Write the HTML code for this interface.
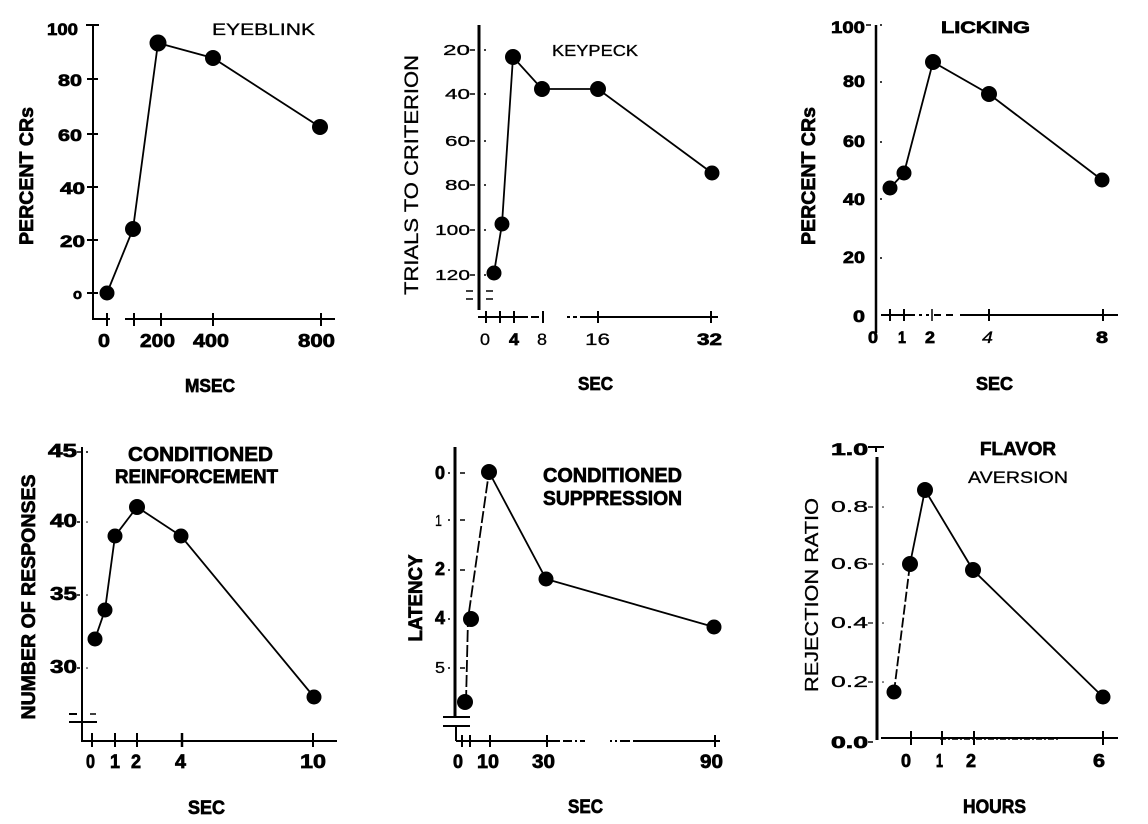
<!DOCTYPE html>
<html>
<head>
<meta charset="utf-8">
<style>
html,body{margin:0;padding:0;background:#fff;}
svg{display:block;}
text{font-family:"Liberation Sans",Arial,sans-serif;fill:#000;}
.b{font-weight:bold;stroke:#000;stroke-width:0.7;}
.n{font-weight:normal;stroke:#000;stroke-width:0.3;}
</style>
</head>
<body>
<svg width="1148" height="824" viewBox="0 0 1148 824" xmlns="http://www.w3.org/2000/svg">
<rect width="1148" height="824" fill="#fff"/>

<!-- ================= PANEL 1: EYEBLINK ================= -->
<g stroke="#000" fill="none">
  <line x1="93" y1="25" x2="93" y2="320" stroke-width="2"/>
  <line x1="86" y1="25" x2="99" y2="25" stroke-width="2"/>
  <line x1="87" y1="79" x2="98" y2="79" stroke-width="2"/>
  <line x1="87" y1="134" x2="98" y2="134" stroke-width="2"/>
  <line x1="87" y1="187" x2="98" y2="187" stroke-width="2"/>
  <line x1="87" y1="240" x2="98" y2="240" stroke-width="2"/>
  <line x1="87" y1="293" x2="98" y2="293" stroke-width="2"/>
  <line x1="93" y1="319" x2="110" y2="319" stroke-width="2"/>
  <line x1="125" y1="319" x2="335" y2="319" stroke-width="2"/>
  <line x1="107" y1="313" x2="107" y2="326" stroke-width="2"/>
  <line x1="134" y1="313" x2="134" y2="326" stroke-width="2"/>
  <line x1="161" y1="313" x2="161" y2="326" stroke-width="2"/>
  <line x1="213" y1="313" x2="213" y2="326" stroke-width="2"/>
  <line x1="321" y1="313" x2="321" y2="326" stroke-width="2"/>
  <polyline points="107,293 133,229 158,43 213,58 320,127" stroke-width="1.8"/>
</g>
<g fill="#000">
  <circle cx="107" cy="293" r="7.5"/>
  <circle cx="133" cy="229" r="8"/>
  <circle cx="158" cy="43" r="8.5"/>
  <circle cx="213" cy="58" r="8"/>
  <circle cx="320" cy="127" r="8"/>
</g>
<text class="b" x="47" y="35" font-size="17" textLength="31" lengthAdjust="spacingAndGlyphs">100</text>
<text class="b" x="58" y="86" font-size="17" textLength="24" lengthAdjust="spacingAndGlyphs">80</text>
<text class="b" x="58" y="141" font-size="17" textLength="24" lengthAdjust="spacingAndGlyphs">60</text>
<text class="b" x="60" y="194" font-size="17" textLength="25" lengthAdjust="spacingAndGlyphs">40</text>
<text class="b" x="60" y="247" font-size="17" textLength="25" lengthAdjust="spacingAndGlyphs">20</text>
<text class="b" x="73" y="299" font-size="15" textLength="9" lengthAdjust="spacingAndGlyphs">o</text>
<text class="b" x="98" y="347" font-size="18" textLength="12" lengthAdjust="spacingAndGlyphs">0</text>
<text class="b" x="140" y="347" font-size="18" textLength="35" lengthAdjust="spacingAndGlyphs">200</text>
<text class="b" x="193" y="347" font-size="18" textLength="36" lengthAdjust="spacingAndGlyphs">400</text>
<text class="b" x="298" y="347" font-size="18" textLength="37" lengthAdjust="spacingAndGlyphs">800</text>
<text class="b" x="185" y="392" font-size="18" textLength="50" lengthAdjust="spacingAndGlyphs">MSEC</text>
<text class="n" x="212" y="35" font-size="17" textLength="103" lengthAdjust="spacingAndGlyphs">EYEBLINK</text>
<text class="b" x="33" y="176" font-size="19" text-anchor="middle" textLength="138" lengthAdjust="spacingAndGlyphs" transform="rotate(-90 33 176)">PERCENT CRs</text>

<!-- ================= PANEL 2: KEYPECK ================= -->
<g stroke="#000" fill="none">
  <line x1="479" y1="25" x2="479" y2="310" stroke-width="3"/>
  <line x1="470" y1="50" x2="475" y2="50" stroke-width="1.5"/>
  <line x1="470" y1="94" x2="475" y2="94" stroke-width="1.5"/>
  <line x1="470" y1="141" x2="475" y2="141" stroke-width="1.5"/>
  <line x1="470" y1="185" x2="475" y2="185" stroke-width="1.5"/>
  <line x1="470" y1="230" x2="475" y2="230" stroke-width="1.5"/>
  <line x1="470" y1="275" x2="475" y2="275" stroke-width="1.5"/>
  <line x1="466" y1="291" x2="473" y2="291" stroke-width="1.5"/>
  <line x1="486" y1="291" x2="493" y2="291" stroke-width="1.5"/>
  <line x1="466" y1="299" x2="473" y2="299" stroke-width="1.5"/>
  <line x1="486" y1="299" x2="493" y2="299" stroke-width="1.5"/>
  <line x1="478" y1="317" x2="528" y2="317" stroke-width="2"/>
  <line x1="531" y1="317" x2="539" y2="317" stroke-width="2"/>
  <line x1="567" y1="317" x2="570" y2="317" stroke-width="2"/>
  <line x1="573" y1="317" x2="577" y2="317" stroke-width="2"/>
  <line x1="580" y1="317" x2="718" y2="317" stroke-width="2"/>
  <line x1="486" y1="311" x2="486" y2="323" stroke-width="2"/>
  <line x1="500" y1="311" x2="500" y2="323" stroke-width="2"/>
  <line x1="514" y1="311" x2="514" y2="323" stroke-width="2"/>
  <line x1="543" y1="311" x2="543" y2="323" stroke-width="2"/>
  <line x1="598" y1="311" x2="598" y2="323" stroke-width="2"/>
  <line x1="711" y1="311" x2="711" y2="323" stroke-width="2"/>
  <polyline points="494,273 502,224 513,57 542,89 598,89 712,173" stroke-width="1.8"/>
</g>
<g fill="#000">
  <circle cx="485" cy="50" r="1"/><circle cx="485" cy="94" r="1"/><circle cx="485" cy="141" r="1"/>
  <circle cx="485" cy="185" r="1"/><circle cx="485" cy="230" r="1"/><circle cx="485" cy="275" r="1"/>
  <circle cx="494" cy="273" r="7.5"/>
  <circle cx="502" cy="224" r="7.5"/>
  <circle cx="513" cy="57" r="8"/>
  <circle cx="542" cy="89" r="8"/>
  <circle cx="598" cy="89" r="8"/>
  <circle cx="712" cy="173" r="7.5"/>
</g>
<text class="n" x="443" y="55" font-size="15" textLength="27" lengthAdjust="spacingAndGlyphs">20</text>
<text class="n" x="445" y="99" font-size="15" textLength="25" lengthAdjust="spacingAndGlyphs">40</text>
<text class="n" x="445" y="146" font-size="15" textLength="25" lengthAdjust="spacingAndGlyphs">60</text>
<text class="n" x="445" y="190" font-size="15" textLength="25" lengthAdjust="spacingAndGlyphs">80</text>
<text class="n" x="435" y="235" font-size="15" textLength="35" lengthAdjust="spacingAndGlyphs">100</text>
<text class="n" x="435" y="280" font-size="15" textLength="35" lengthAdjust="spacingAndGlyphs">120</text>
<text class="n" x="480" y="345" font-size="17" textLength="10" lengthAdjust="spacingAndGlyphs">0</text>
<text class="b" x="509" y="345" font-size="17" textLength="10" lengthAdjust="spacingAndGlyphs">4</text>
<text class="n" x="537" y="345" font-size="17" textLength="10" lengthAdjust="spacingAndGlyphs">8</text>
<text class="n" x="585" y="345" font-size="17" textLength="25" lengthAdjust="spacingAndGlyphs">16</text>
<text class="b" x="697" y="345" font-size="17" textLength="25" lengthAdjust="spacingAndGlyphs">32</text>
<text class="b" x="578" y="390" font-size="18" textLength="35" lengthAdjust="spacingAndGlyphs">SEC</text>
<text class="n" x="552" y="56" font-size="16" textLength="86" lengthAdjust="spacingAndGlyphs">KEYPECK</text>
<text class="n" x="418" y="175" font-size="19" text-anchor="middle" textLength="240" lengthAdjust="spacingAndGlyphs" transform="rotate(-90 418 175)">TRIALS TO CRITERION</text>

<!-- ================= PANEL 3: LICKING ================= -->
<g stroke="#000" fill="none">
  <line x1="876" y1="25" x2="876" y2="333" stroke-width="2.5"/>
  <line x1="866" y1="25" x2="871" y2="25" stroke-width="1.5"/>
  <line x1="881" y1="315" x2="915" y2="315" stroke-width="2"/>
  <line x1="919" y1="315" x2="922" y2="315" stroke-width="2"/>
  <line x1="926" y1="315" x2="929" y2="315" stroke-width="2"/>
  <line x1="934" y1="315" x2="941" y2="315" stroke-width="2"/>
  <line x1="946" y1="315" x2="953" y2="315" stroke-width="2"/>
  <line x1="960" y1="315" x2="1118" y2="315" stroke-width="2"/>
  <line x1="890" y1="309" x2="890" y2="321" stroke-width="2"/>
  <line x1="904" y1="309" x2="904" y2="321" stroke-width="2"/>
  <line x1="932" y1="309" x2="932" y2="321" stroke-width="1.5"/>
  <line x1="989" y1="309" x2="989" y2="321" stroke-width="2"/>
  <line x1="1103" y1="309" x2="1103" y2="321" stroke-width="2"/>
  <polyline points="890,188 904,173 933,62 989,94 1102,180" stroke-width="1.8"/>
</g>
<g fill="#000">
  <circle cx="881" cy="25" r="1"/><circle cx="881" cy="82" r="1"/><circle cx="881" cy="142" r="1"/>
  <circle cx="881" cy="199" r="1"/><circle cx="881" cy="258" r="1"/>
  <circle cx="890" cy="188" r="7.5"/>
  <circle cx="904" cy="173" r="7.5"/>
  <circle cx="933" cy="62" r="8"/>
  <circle cx="989" cy="94" r="8"/>
  <circle cx="1102" cy="180" r="7.5"/>
</g>
<text class="b" x="831" y="33" font-size="17" textLength="34" lengthAdjust="spacingAndGlyphs">100</text>
<text class="b" x="843" y="87" font-size="17" textLength="22" lengthAdjust="spacingAndGlyphs">80</text>
<text class="b" x="843" y="147" font-size="17" textLength="22" lengthAdjust="spacingAndGlyphs">60</text>
<text class="b" x="843" y="205" font-size="17" textLength="22" lengthAdjust="spacingAndGlyphs">40</text>
<text class="b" x="843" y="263" font-size="17" textLength="22" lengthAdjust="spacingAndGlyphs">20</text>
<text class="b" x="853" y="322" font-size="17" textLength="12" lengthAdjust="spacingAndGlyphs">0</text>
<text class="b" x="868" y="343" font-size="17" textLength="10" lengthAdjust="spacingAndGlyphs">0</text>
<text class="b" x="898" y="343" font-size="17" textLength="8" lengthAdjust="spacingAndGlyphs">1</text>
<text class="b" x="925" y="343" font-size="17" textLength="10" lengthAdjust="spacingAndGlyphs">2</text>
<text class="n" x="982" y="343" font-size="17" textLength="11" lengthAdjust="spacingAndGlyphs" font-style="italic">4</text>
<text class="b" x="1096" y="343" font-size="17" textLength="12" lengthAdjust="spacingAndGlyphs">8</text>
<text class="b" x="941" y="33" font-size="17" textLength="89" lengthAdjust="spacingAndGlyphs">LICKING</text>
<text class="b" x="976" y="390" font-size="18" textLength="37" lengthAdjust="spacingAndGlyphs">SEC</text>
<text class="b" x="815" y="176" font-size="19" text-anchor="middle" textLength="138" lengthAdjust="spacingAndGlyphs" transform="rotate(-90 815 176)">PERCENT CRs</text>

<!-- ================= PANEL 4: CONDITIONED REINFORCEMENT ================= -->
<g stroke="#000" fill="none">
  <line x1="82" y1="447" x2="82" y2="742" stroke-width="2"/>
  <line x1="77" y1="452" x2="81" y2="452" stroke-width="1.5"/>
  <line x1="77" y1="522" x2="80" y2="522" stroke-width="1.5"/>
  <line x1="77" y1="595" x2="80" y2="595" stroke-width="1.5"/>
  <line x1="77" y1="668" x2="80" y2="668" stroke-width="1.5"/>
  <line x1="69" y1="714" x2="77" y2="714" stroke-width="2"/>
  <line x1="90" y1="714" x2="96" y2="714" stroke-width="1.5"/>
  <line x1="69" y1="722" x2="97" y2="722" stroke-width="2"/>
  <line x1="82" y1="741" x2="337" y2="741" stroke-width="2"/>
  <line x1="92" y1="733" x2="92" y2="747" stroke-width="2"/>
  <line x1="115" y1="733" x2="115" y2="747" stroke-width="2"/>
  <line x1="137" y1="733" x2="137" y2="747" stroke-width="2"/>
  <line x1="182" y1="733" x2="182" y2="747" stroke-width="2.5"/>
  <line x1="313" y1="733" x2="313" y2="747" stroke-width="2"/>
  <polyline points="95,639 105,610 115,536 137,507 181,536 314,697" stroke-width="1.8"/>
</g>
<g fill="#000">
  <circle cx="87" cy="452" r="1"/><circle cx="87" cy="522" r="0.8"/><circle cx="87" cy="595" r="0.8"/><circle cx="87" cy="668" r="0.8"/>
  <circle cx="95" cy="639" r="7.5"/>
  <circle cx="105" cy="610" r="7.5"/>
  <circle cx="115" cy="536" r="7.5"/>
  <circle cx="137" cy="507" r="8"/>
  <circle cx="181" cy="536" r="7.5"/>
  <circle cx="314" cy="697" r="7.5"/>
</g>
<text class="b" x="48" y="457" font-size="18" textLength="29" lengthAdjust="spacingAndGlyphs">45</text>
<text class="b" x="50" y="527" font-size="18" textLength="27" lengthAdjust="spacingAndGlyphs">40</text>
<text class="b" x="50" y="600" font-size="18" textLength="27" lengthAdjust="spacingAndGlyphs">35</text>
<text class="b" x="50" y="673" font-size="18" textLength="27" lengthAdjust="spacingAndGlyphs">30</text>
<text class="b" x="86" y="768" font-size="19" textLength="9" lengthAdjust="spacingAndGlyphs">0</text>
<text class="b" x="110" y="768" font-size="19" textLength="10" lengthAdjust="spacingAndGlyphs">1</text>
<text class="b" x="131" y="768" font-size="19" textLength="10" lengthAdjust="spacingAndGlyphs">2</text>
<text class="b" x="175" y="768" font-size="19" textLength="11" lengthAdjust="spacingAndGlyphs">4</text>
<text class="b" x="300" y="768" font-size="19" textLength="26" lengthAdjust="spacingAndGlyphs">10</text>
<text class="b" x="188" y="814" font-size="19" textLength="37" lengthAdjust="spacingAndGlyphs">SEC</text>
<text class="b" x="128" y="461" font-size="20" textLength="145" lengthAdjust="spacingAndGlyphs">CONDITIONED</text>
<text class="b" x="115" y="483" font-size="19" textLength="163" lengthAdjust="spacingAndGlyphs">REINFORCEMENT</text>
<text class="b" x="35" y="597" font-size="19" text-anchor="middle" textLength="245" lengthAdjust="spacingAndGlyphs" transform="rotate(-90 35 597)">NUMBER OF RESPONSES</text>

<!-- ================= PANEL 5: CONDITIONED SUPPRESSION ================= -->
<g stroke="#000" fill="none">
  <line x1="455" y1="447" x2="455" y2="717" stroke-width="3"/>
  <line x1="460" y1="473" x2="465" y2="473" stroke-width="1.5"/>
  <line x1="460" y1="520" x2="465" y2="520" stroke-width="1.5"/>
  <line x1="460" y1="570" x2="465" y2="570" stroke-width="1.5"/>
  <line x1="460" y1="668" x2="465" y2="668" stroke-width="1.5"/>
  <line x1="443" y1="717" x2="470" y2="717" stroke-width="2"/>
  <line x1="443" y1="726" x2="470" y2="726" stroke-width="2"/>
  <line x1="456" y1="726" x2="456" y2="741" stroke-width="2"/>
  <line x1="456" y1="741" x2="560" y2="741" stroke-width="2"/>
  <line x1="563" y1="741" x2="572" y2="741" stroke-width="2"/>
  <line x1="575" y1="741" x2="577" y2="741" stroke-width="2"/>
  <line x1="580" y1="741" x2="585" y2="741" stroke-width="2"/>
  <line x1="610" y1="741" x2="612" y2="741" stroke-width="2"/>
  <line x1="615" y1="741" x2="617" y2="741" stroke-width="2"/>
  <line x1="620" y1="741" x2="630" y2="741" stroke-width="2"/>
  <line x1="633" y1="741" x2="720" y2="741" stroke-width="2"/>
  <line x1="462" y1="735" x2="462" y2="747" stroke-width="2"/>
  <line x1="470" y1="735" x2="470" y2="747" stroke-width="2"/>
  <line x1="490" y1="735" x2="490" y2="747" stroke-width="2"/>
  <line x1="547" y1="735" x2="547" y2="747" stroke-width="2"/>
  <line x1="715" y1="735" x2="715" y2="747" stroke-width="2"/>
  <polyline points="466,702 468,619 489,472" stroke-width="1.8" stroke-dasharray="12 3"/>
  <polyline points="489,472 546,579 714,627" stroke-width="1.8"/>
</g>
<g fill="#000">
  <circle cx="449" cy="473" r="1"/><circle cx="449" cy="520" r="1"/><circle cx="449" cy="570" r="1"/><circle cx="449" cy="619" r="1"/><circle cx="449" cy="668" r="1"/>
  <circle cx="465" cy="702" r="8"/>
  <circle cx="471" cy="619" r="8"/>
  <circle cx="489" cy="472" r="8"/>
  <circle cx="546" cy="579" r="7.5"/>
  <circle cx="714" cy="627" r="7.5"/>
</g>
<text class="b" x="435" y="479" font-size="18" textLength="10" lengthAdjust="spacingAndGlyphs">0</text>
<text class="n" x="435" y="526" font-size="16" textLength="7" lengthAdjust="spacingAndGlyphs">1</text>
<text class="b" x="435" y="575" font-size="18" textLength="10" lengthAdjust="spacingAndGlyphs">2</text>
<text class="b" x="435" y="624" font-size="18" textLength="10" lengthAdjust="spacingAndGlyphs">4</text>
<text class="n" x="435" y="673" font-size="16" textLength="10" lengthAdjust="spacingAndGlyphs">5</text>
<text class="b" x="453" y="768" font-size="19" textLength="10" lengthAdjust="spacingAndGlyphs">0</text>
<text class="b" x="477" y="768" font-size="19" textLength="22" lengthAdjust="spacingAndGlyphs">10</text>
<text class="b" x="532" y="768" font-size="19" textLength="23" lengthAdjust="spacingAndGlyphs">30</text>
<text class="b" x="700" y="768" font-size="19" textLength="23" lengthAdjust="spacingAndGlyphs">90</text>
<text class="b" x="568" y="813" font-size="19" textLength="35" lengthAdjust="spacingAndGlyphs">SEC</text>
<text class="b" x="543" y="482" font-size="20" textLength="139" lengthAdjust="spacingAndGlyphs">CONDITIONED</text>
<text class="b" x="543" y="505" font-size="20" textLength="139" lengthAdjust="spacingAndGlyphs">SUPPRESSION</text>
<text class="b" x="422" y="598" font-size="19" text-anchor="middle" textLength="87" lengthAdjust="spacingAndGlyphs" transform="rotate(-90 422 598)">LATENCY</text>

<!-- ================= PANEL 6: FLAVOR AVERSION ================= -->
<g stroke="#000" fill="none">
  <line x1="868" y1="447" x2="884" y2="447" stroke-width="2"/>
  <line x1="876" y1="447" x2="876" y2="452" stroke-width="2"/>
  <line x1="877" y1="457" x2="877" y2="740" stroke-width="3"/>
  <line x1="868" y1="507" x2="873" y2="507" stroke-width="1.2"/>
  <line x1="868" y1="564" x2="873" y2="564" stroke-width="1.2"/>
  <line x1="868" y1="623" x2="873" y2="623" stroke-width="1.2"/>
  <line x1="868" y1="682" x2="873" y2="682" stroke-width="1.2"/>
  <line x1="868" y1="742" x2="873" y2="742" stroke-width="1.5"/>
  <line x1="881" y1="738" x2="1118" y2="738" stroke-width="2"/>
  <line x1="940" y1="739" x2="1060" y2="739" stroke-width="1.5" stroke-dasharray="6 2 2 2"/>
  <line x1="911" y1="731" x2="911" y2="745" stroke-width="2"/>
  <line x1="942" y1="731" x2="942" y2="745" stroke-width="2"/>
  <line x1="974" y1="731" x2="974" y2="745" stroke-width="2"/>
  <line x1="1103" y1="731" x2="1103" y2="745" stroke-width="2"/>
  <line x1="894" y1="692" x2="910" y2="564" stroke-width="1.8" stroke-dasharray="10 3"/>
  <polyline points="910,564 925,490 973,570 1103,697" stroke-width="1.8"/>
</g>
<g fill="#000">
  <circle cx="883" cy="507" r="0.8"/><circle cx="883" cy="564" r="0.8"/><circle cx="883" cy="623" r="0.8"/><circle cx="883" cy="682" r="0.8"/>
  <circle cx="894" cy="692" r="7.5"/>
  <circle cx="910" cy="564" r="8"/>
  <circle cx="925" cy="490" r="8"/>
  <circle cx="973" cy="570" r="8"/>
  <circle cx="1103" cy="697" r="7.5"/>
</g>
<text class="b" x="831" y="455" font-size="17" textLength="37" lengthAdjust="spacingAndGlyphs">1.0</text>
<text class="n" x="831" y="512" font-size="16" textLength="37" lengthAdjust="spacingAndGlyphs">0.8</text>
<text class="n" x="831" y="569" font-size="16" textLength="37" lengthAdjust="spacingAndGlyphs">0.6</text>
<text class="n" x="831" y="628" font-size="16" textLength="37" lengthAdjust="spacingAndGlyphs">0.4</text>
<text class="n" x="831" y="687" font-size="16" textLength="37" lengthAdjust="spacingAndGlyphs">0.2</text>
<text class="b" x="831" y="748" font-size="17" textLength="37" lengthAdjust="spacingAndGlyphs">0.0</text>
<text class="b" x="901" y="767" font-size="18" textLength="10" lengthAdjust="spacingAndGlyphs">0</text>
<text class="b" x="936" y="767" font-size="18" textLength="7" lengthAdjust="spacingAndGlyphs">1</text>
<text class="b" x="966" y="767" font-size="18" textLength="10" lengthAdjust="spacingAndGlyphs">2</text>
<text class="b" x="1093" y="767" font-size="18" textLength="12" lengthAdjust="spacingAndGlyphs">6</text>
<text class="b" x="963" y="813" font-size="19" textLength="63" lengthAdjust="spacingAndGlyphs">HOURS</text>
<text class="b" x="980" y="455" font-size="18" textLength="76" lengthAdjust="spacingAndGlyphs">FLAVOR</text>
<text class="n" x="968" y="483" font-size="17" textLength="100" lengthAdjust="spacingAndGlyphs">AVERSION</text>
<text class="n" x="818" y="595" font-size="18" text-anchor="middle" textLength="194" lengthAdjust="spacingAndGlyphs" transform="rotate(-90 818 595)">REJECTION RATIO</text>

</svg>
</body>
</html>
